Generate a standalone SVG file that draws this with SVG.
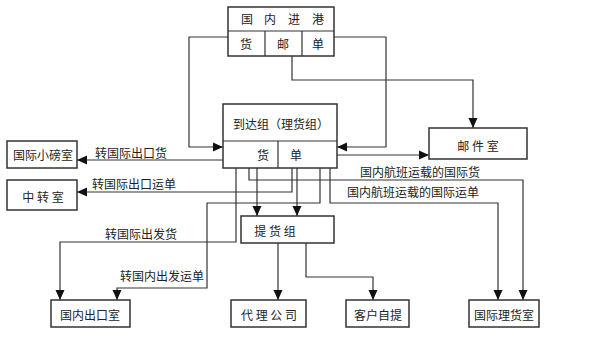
<svg xmlns="http://www.w3.org/2000/svg" width="600" height="338" viewBox="0 0 600 338">
<defs>
<marker id="arr" markerUnits="userSpaceOnUse" markerWidth="10" markerHeight="10" viewBox="0 0 10 10" refX="10" refY="5" orient="auto">
<path d="M0,0.5 L10,5 L0,9.5 Z" fill="#111"/>
</marker>
<style>
.box{fill:#fff;stroke:#333;stroke-width:1.5}
.ln{fill:none;stroke:#333;stroke-width:1.2}
.cn{fill:none;stroke:#333;stroke-width:1.2;marker-end:url(#arr)}
text{font-family:"Noto Sans CJK SC","Noto Sans CJK TC",sans-serif;font-size:12px;fill:#222;text-anchor:middle;dominant-baseline:central}
.lb{text-anchor:start}
</style>
</defs>
<rect width="600" height="338" fill="#fff"/>
<g id="connectors">
<path class="cn" d="M228,37 H189 V147 H223"/>
<path class="cn" d="M334,37 H386 V147 H337"/>
<path class="cn" d="M292,56 V80 H473 V128"/>
<path class="cn" d="M337,155 H429"/>
<path class="cn" d="M223,160 H77"/>
<path class="cn" d="M292,168 V192 H77"/>
<path class="cn" d="M236,168 V242 H60 V300"/>
<path class="cn" d="M320,168 V203 H207 V288 H117 V300"/>
<path class="cn" d="M249,168 V180 H523 V300"/>
<path class="cn" d="M330,168 V203 H498 V300"/>
<path class="cn" d="M257,168 V216"/>
<path class="cn" d="M297,168 V216"/>
<path class="cn" d="M278,243 V300"/>
<path class="cn" d="M306,243 V277 H373 V300"/>
<text class="lb" x="95" y="152">转国际出口货</text>
<text class="lb" x="92" y="183">转国际出口运单</text>
<text class="lb" x="105" y="233">转国际出发货</text>
<text class="lb" x="120" y="275">转国内出发运单</text>
<text class="lb" x="360" y="171">国内航班运载的国际货</text>
<text class="lb" x="347" y="191">国内航班运载的国际运单</text>
</g>
<g id="guonei-jingang">
<rect class="box" x="228" y="7" width="106" height="49"/>
<path class="ln" d="M228,31 H334 M265,31 V56 M302,31 V56"/>
<text x="247" y="18">国</text><text x="270" y="18">内</text><text x="294" y="18">进</text><text x="318" y="18">港</text>
<text x="246" y="43">货</text><text x="283" y="43">邮</text><text x="318" y="43">单</text>
</g>
<g id="daoda">
<rect class="box" x="223" y="104" width="114" height="64"/>
<path class="ln" d="M223,141 H337 M278,141 V168"/>
<text x="281" y="123">到达组（理货组）</text>
<text x="263" y="154">货</text><text x="296" y="154">单</text>
</g>
<g id="youjian">
<rect class="box" x="429" y="128" width="98" height="31"/>
<text x="478" y="145">邮 件 室</text>
</g>
<g id="xiaobang">
<rect class="box" x="7" y="141" width="70" height="27"/>
<text x="43" y="154">国际小磅室</text>
</g>
<g id="zhongzhuan">
<rect class="box" x="7" y="180" width="70" height="30"/>
<text x="43" y="196">中 转 室</text>
</g>
<g id="tihuo">
<rect class="box" x="241" y="216" width="93" height="27"/>
<text x="275" y="230">提 货 组</text>
</g>
<g id="guonei-chukou">
<rect class="box" x="51" y="300" width="79" height="27"/>
<text x="90" y="314">国内出口室</text>
</g>
<g id="daili">
<rect class="box" x="231" y="300" width="75" height="27"/>
<text x="269" y="314">代 理 公 司</text>
</g>
<g id="kehu">
<rect class="box" x="346" y="300" width="63" height="27"/>
<text x="378" y="314">客户自提</text>
</g>
<g id="guoji-lihuo">
<rect class="box" x="469" y="300" width="70" height="27"/>
<text x="504" y="314">国际理货室</text>
</g>
</svg>
